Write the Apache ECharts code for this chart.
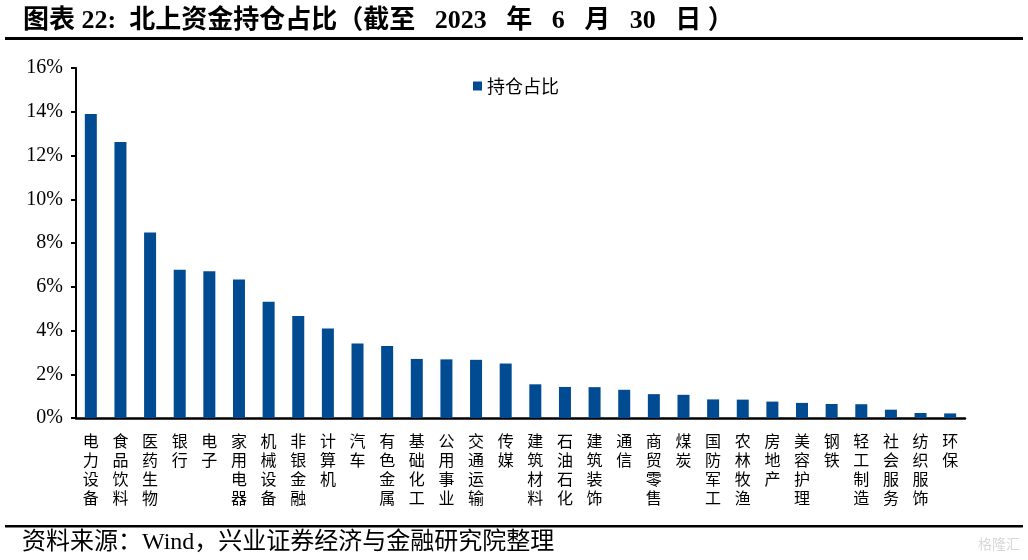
<!DOCTYPE html>
<html>
<head>
<meta charset="utf-8">
<script src="https://cdn.jsdelivr.net/npm/echarts@6/dist/echarts.min.js"></script>
<style>html,body{margin:0;padding:0;background:#fff;}#c{width:1028px;height:560px;}</style>
</head>
<body>
<div id="c"></div>
<script>
const categories = ['电力设备','食品饮料','医药生物','银行','电子','家用电器','机械设备','非银金融','计算机','汽车','有色金属','基础化工','公用事业','交通运输','传媒','建筑材料','石油石化','建筑装饰','通信','商贸零售','煤炭','国防军工','农林牧渔','房地产','美容护理','钢铁','轻工制造','社会服务','纺织服饰','环保'];
const holdingShare = [13.90,12.62,8.48,6.78,6.71,6.33,5.32,4.66,4.09,3.41,3.29,2.70,2.68,2.66,2.49,1.54,1.42,1.41,1.29,1.09,1.06,0.85,0.84,0.75,0.69,0.64,0.63,0.38,0.23,0.21];
const yTicks = [0,2,4,6,8,10,12,14,16];
const seriesName = '持仓占比';
const titleText = '图表 22:  北上资金持仓占比（截至   2023   年   6   月   30   日 ）';
const sourceText = '资料来源：Wind，兴业证券经济与金融研究院整理';

const serif = '"Liberation Serif","Noto Sans CJK SC",serif';
const chart = echarts.init(document.getElementById('c'), null, {renderer:'canvas'});
chart.setOption({
  animation:false,
  backgroundColor:'#fff',
  title:{
    text:titleText, left:18, top:3,
    textStyle:{fontFamily:serif, fontWeight:'bold', fontSize:26, color:'#000'}
  },
  legend:{
    data:[seriesName], left:468, top:72, itemWidth:9, itemHeight:9, itemGap:5,
    icon:'rect',
    textStyle:{fontFamily:'"Noto Sans CJK SC",sans-serif', fontSize:18, color:'#000'}
  },
  graphic:[
    {type:'rect', shape:{x:5,y:37,width:1018,height:3}, style:{fill:'#000'}},
    {type:'rect', shape:{x:5,y:525,width:1018,height:2.5}, style:{fill:'#000'}},
    {type:'text', left:22, top:531, style:{text:sourceText, font:'24px "Liberation Serif","Noto Sans CJK SC",serif', fill:'#000'}},
    {type:'text', right:8, top:537, style:{text:'格隆汇', font:'14px "Noto Sans CJK SC",sans-serif', fill:'#d8d8d8'}}
  ],
  grid:{left:76, right:63, top:68, bottom:142, containLabel:false},
  xAxis:{
    type:'category', data:categories,
    axisLine:{lineStyle:{color:'#000', width:2.5}},
    axisTick:{show:false},
    axisLabel:{
      interval:0, margin:14, fontSize:16, lineHeight:18.7, color:'#000',
      fontFamily:'"Noto Sans CJK SC",sans-serif', verticalAlign:'top',
      formatter:v=>v.split('').join('\n')
    }
  },
  yAxis:{
    type:'value', min:yTicks[0], max:yTicks[yTicks.length-1], interval:2,
    splitLine:{show:false},
    axisLine:{show:true, lineStyle:{color:'#000', width:2}},
    axisTick:{show:true, length:5, lineStyle:{color:'#000', width:2}},
    axisLabel:{formatter:'{value}%', fontFamily:serif, fontSize:20, color:'#000', margin:13}
  },
  series:[{
    name:seriesName, type:'bar', data:holdingShare, barWidth:12,
    itemStyle:{color:'#004B91'}
  }]
});
</script>
</body>
</html>
